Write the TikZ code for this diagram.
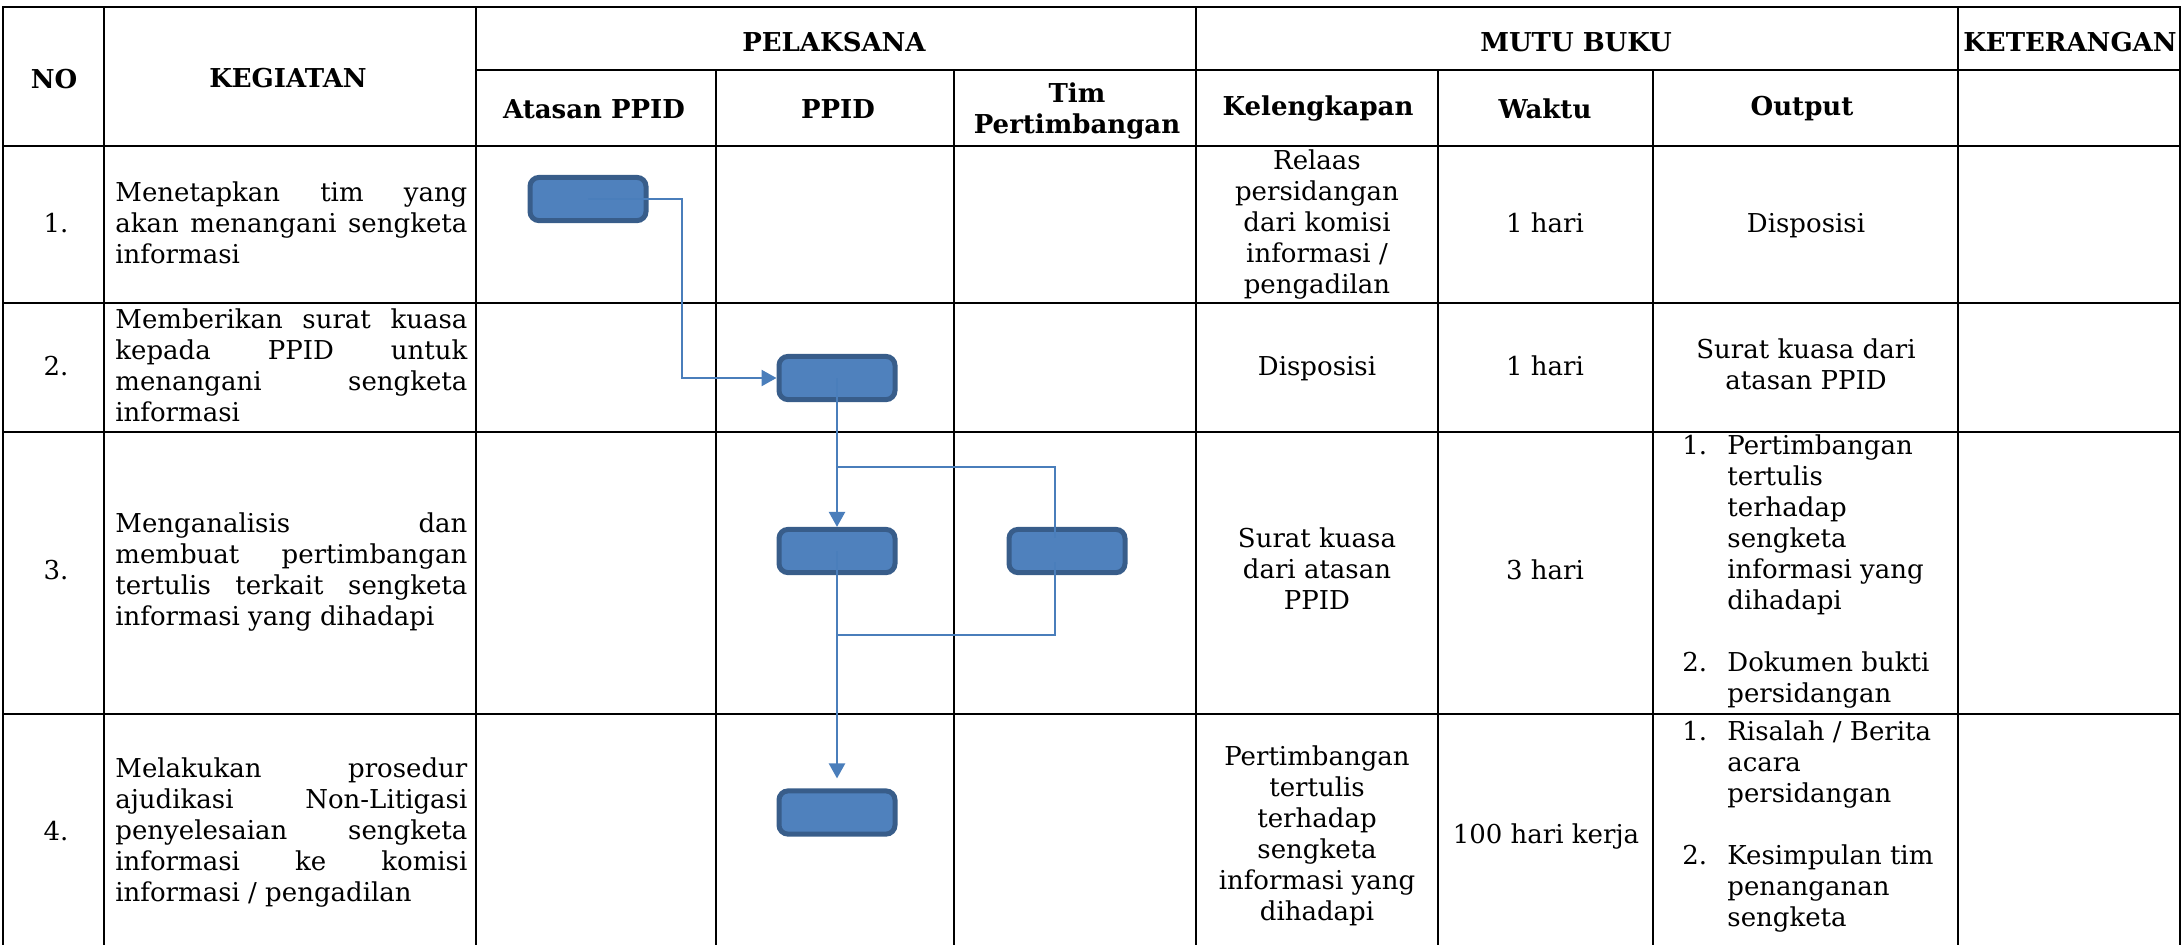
\documentclass[tikz,border=0pt]{standalone}
\usepackage{fontspec}
\setmainfont{DejaVu Serif}
\usetikzlibrary{arrows.meta}
\definecolor{boxfill}{HTML}{4F81BD}
\definecolor{boxline}{HTML}{385D8A}
\definecolor{conn}{HTML}{4A7EBB}
\newcommand{\bodyfont}{\fontsize{13}{15.5}\selectfont\hyphenpenalty=10000\exhyphenpenalty=10000 }
\tikzset{
  grid/.style={line width=1.3pt, line cap=rect},
  txt/.style={font=\bodyfont, inner sep=0pt, align=center,
    execute at begin node=\strut, execute at end node=\strut},
  hdr/.style={font=\bodyfont\bfseries, inner sep=0pt, align=center},
  keg/.style={font=\bodyfont, inner sep=0pt, text width=176pt, align=justify, anchor=west,
    execute at begin node=\strut, execute at end node=\strut},
  lst/.style={font=\bodyfont, inner sep=0pt, align=left, anchor=west,
    execute at begin node=\strut, execute at end node=\strut},
  flowbox/.style={draw=boxline, fill=boxfill, line width=2.5pt, rounded corners=4.5pt,
    minimum width=58pt, minimum height=21.6pt, inner sep=0pt},
  flow/.style={draw=conn, line width=1.2pt},
  flowarrow/.style={flow, -{Triangle[length=7.5pt,width=8pt]}},
}
\newcommand{\num}[1]{\makebox[22.5pt][l]{#1}}
\newcommand{\ind}{\hspace*{22.5pt}}
\begin{document}
\begin{tikzpicture}[x=0.5pt,y=-0.5pt]
\useasboundingbox (0,0) rectangle (2183,944);
% ---------- table grid ----------
\draw[grid] (3,7) -- (2180,7);
\draw[grid] (476,70) -- (2180,70);
\draw[grid] (3,146) -- (2180,146);
\draw[grid] (3,303) -- (2180,303);
\draw[grid] (3,432) -- (2180,432);
\draw[grid] (3,714) -- (2180,714);
\foreach \x in {3,104,476,1196,1958,2180} \draw[grid] (\x,7) -- (\x,944);
\foreach \x in {716,954,1438,1653} \draw[grid] (\x,70) -- (\x,944);
% ---------- header ----------
\node[hdr] (hNo) at (54,79) {NO};
\node[hdr] (hKeg) at (288,78) {KEGIATAN};
\node[hdr] (hPel) at (834,42) {PELAKSANA};
\node[hdr] (hMutu) at (1576,42) {MUTU BUKU};
\node[hdr] (hKet) at (2070,42) {KETERANGAN};
\node[hdr] (hAtasan) at (594,109) {Atasan PPID};
\node[hdr] (hPPID) at (838,109) {PPID};
\node[hdr] (hTim) at (1077,111) {Tim\\Pertimbangan};
\node[hdr] (hKel) at (1318,109) {Kelengkapan};
\node[hdr] (hWaktu) at (1545,109) {Waktu};
\node[hdr] (hOut) at (1802,109) {Output};
% ---------- row numbers ----------
\node[txt] (n1) at (56,226) {1.};
\node[txt] (n2) at (56,369) {2.};
\node[txt] (n3) at (56,573) {3.};
\node[txt] (n4) at (56,834) {4.};
% ---------- kegiatan ----------
\node[keg] (k1) at (115,226) {Menetapkan tim yang\linebreak akan menangani sengketa\linebreak informasi};
\node[keg] (k2) at (115,369) {Memberikan surat kuasa\linebreak kepada PPID untuk\linebreak menangani sengketa\linebreak informasi};
\node[keg] (k3) at (115,573) {Menganalisis dan\linebreak membuat pertimbangan\linebreak tertulis terkait sengketa\linebreak informasi yang dihadapi};
\node[keg] (k4) at (115,833) {Melakukan prosedur\linebreak ajudikasi Non-Litigasi\linebreak penyelesaian sengketa\linebreak informasi ke komisi\linebreak informasi / pengadilan};
% ---------- kelengkapan ----------
\node[txt] (l1) at (1317,226) {Relaas\\persidangan\\dari komisi\\informasi /\\pengadilan};
\node[txt] (l2) at (1317,369) {Disposisi};
\node[txt] (l3) at (1317,573) {Surat kuasa\\dari atasan\\PPID};
\node[txt] (l4) at (1317,838) {Pertimbangan\\tertulis\\terhadap\\sengketa\\informasi yang\\dihadapi};
% ---------- waktu ----------
\node[txt] (w1) at (1545,226) {1 hari};
\node[txt] (w2) at (1545,369) {1 hari};
\node[txt] (w3) at (1545,573) {3 hari};
\node[txt] (w4) at (1546,837) {100 hari kerja};
% ---------- output ----------
\node[txt] (o1) at (1806,226) {Disposisi};
\node[txt] (o2) at (1806,369) {Surat kuasa dari\\atasan PPID};
\node[lst] (o3) at (1682,573) {\num{1.}Pertimbangan\\\ind tertulis\\\ind terhadap\\\ind sengketa\\\ind informasi yang\\\ind dihadapi\\[15.5pt]\num{2.}Dokumen bukti\\\ind persidangan};
\node[lst] (o4) at (1682,828) {\num{1.}Risalah / Berita\\\ind acara\\\ind persidangan\\[15.5pt]\num{2.}Kesimpulan tim\\\ind penanganan\\\ind sengketa};
% ---------- flow boxes ----------
\node[flowbox] (b1) at (588,199) {};
\node[flowbox] (b2) at (837,378) {};
\node[flowbox] (b3) at (837,551) {};
\node[flowbox] (b4) at (1067,551) {};
\node[flowbox] (b5) at (837,812.5) {};
% ---------- connectors ----------
\coordinate (t1) at (682,0);
\coordinate (tl) at (1055,0);
\coordinate (split) at (837,467);
\coordinate (join) at (837,635);
\draw[flowarrow] (b1.center) -- (b1.center -| t1) -- (t1 |- b2.west) -- (b2.west);
\draw[flowarrow] (b2.center) -- (b3.north);
\draw[flow, shorten >=6.5pt] (split) -- (split -| tl) -- (tl |- b4.center);
\draw[flow, shorten <=5.5pt] (tl |- b4.center) -- (tl |- join) -- (join);
\draw[flowarrow, shorten >=5pt] (b3.center) -- (b5.north);
\end{tikzpicture}
\end{document}
